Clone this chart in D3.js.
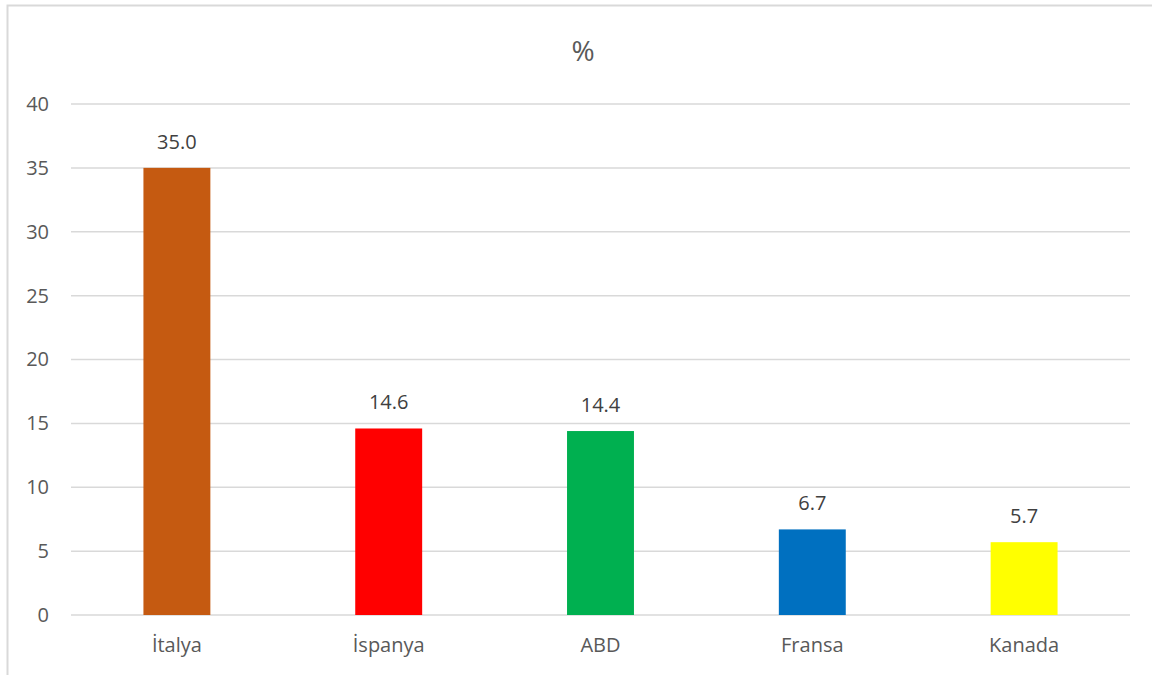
<!DOCTYPE html>
<html>
<head>
<meta charset="utf-8">
<script src="https://cdn.jsdelivr.net/npm/d3@7"></script>
<style>
  body { margin: 0; background: #fff; }
  svg { display: block; font-family: "Open Sans", "Noto Sans", sans-serif; }
</style>
</head>
<body>
<div id="chart-area"></div>
<script>
var countries = ["İtalya", "İspanya", "ABD", "Fransa", "Kanada"];
var values = [35.0, 14.6, 14.4, 6.7, 5.7];
var barColors = ["#C55A11", "#FF0000", "#00B050", "#0070C0", "#FFFF00"];
var yTicks = [0, 5, 10, 15, 20, 25, 30, 35, 40];

var W = 1152, H = 675;
var margin = { top: 104, right: 22, bottom: 60, left: 71 };
var width = W - margin.left - margin.right;
var height = H - margin.top - margin.bottom;

var svg = d3.select("#chart-area").append("svg")
	.attr("width", W)
	.attr("height", H);

// chart frame
svg.append("rect")
	.attr("x", 7.5).attr("y", 5.5)
	.attr("width", W + 10).attr("height", H + 10)
	.attr("fill", "#fff")
	.attr("stroke", "#d9d9d9")
	.attr("stroke-width", 2);

var g = svg.append("g")
	.attr("transform", "translate(" + margin.left + "," + margin.top + ")");

var y = d3.scaleLinear().domain([0, 40]).range([height, 0]);
var x = d3.scaleBand().domain(countries).range([0, width]);
var barW = x.bandwidth() * 0.316;

// gridlines
g.selectAll(".grid").data(yTicks).enter().append("line")
	.attr("class", "grid")
	.attr("x1", 0).attr("x2", width)
	.attr("y1", function(d){ return y(d); })
	.attr("y2", function(d){ return y(d); })
	.attr("stroke", "#d9d9d9")
	.attr("stroke-width", 1.5);

// y axis labels
var leftAxis = d3.axisLeft(y).tickValues(yTicks).tickSize(0).tickPadding(22);
var ya = g.append("g").attr("class", "left axis").call(leftAxis);
ya.select(".domain").remove();
ya.selectAll("text")
	.attr("fill", "#595959")
	.attr("font-size", "20px")
	.attr("font-family", "Open Sans, Noto Sans, sans-serif")
	.attr("text-anchor", "end");

// bars
g.selectAll(".bar").data(values).enter().append("rect")
	.attr("class", "bar")
	.attr("x", function(d, i){ return x(countries[i]) + (x.bandwidth() - barW) / 2; })
	.attr("y", function(d){ return y(d); })
	.attr("width", barW)
	.attr("height", function(d){ return height - y(d); })
	.attr("fill", function(d, i){ return barColors[i]; });

// value labels
g.selectAll(".val").data(values).enter().append("text")
	.attr("class", "val")
	.attr("x", function(d, i){ return x(countries[i]) + x.bandwidth() / 2; })
	.attr("y", function(d){ return y(d) - 19; })
	.attr("text-anchor", "middle")
	.attr("font-size", "20px")
	.attr("fill", "#404040")
	.text(function(d){ return d.toFixed(1); });

// x axis labels
var bottomAxis = d3.axisBottom(x).tickSize(0).tickPadding(23);
var xa = g.append("g").attr("class", "bottom axis")
	.attr("transform", "translate(0," + height + ")")
	.call(bottomAxis);
xa.select(".domain").remove();
xa.selectAll("text")
	.attr("fill", "#595959")
	.attr("font-size", "20px")
	.attr("font-family", "Open Sans, Noto Sans, sans-serif");

// title
svg.append("text")
	.attr("x", 583)
	.attr("y", 61)
	.attr("text-anchor", "middle")
	.attr("font-size", "28px")
	.attr("fill", "#595959")
	.text("%");
</script>
</body>
</html>
